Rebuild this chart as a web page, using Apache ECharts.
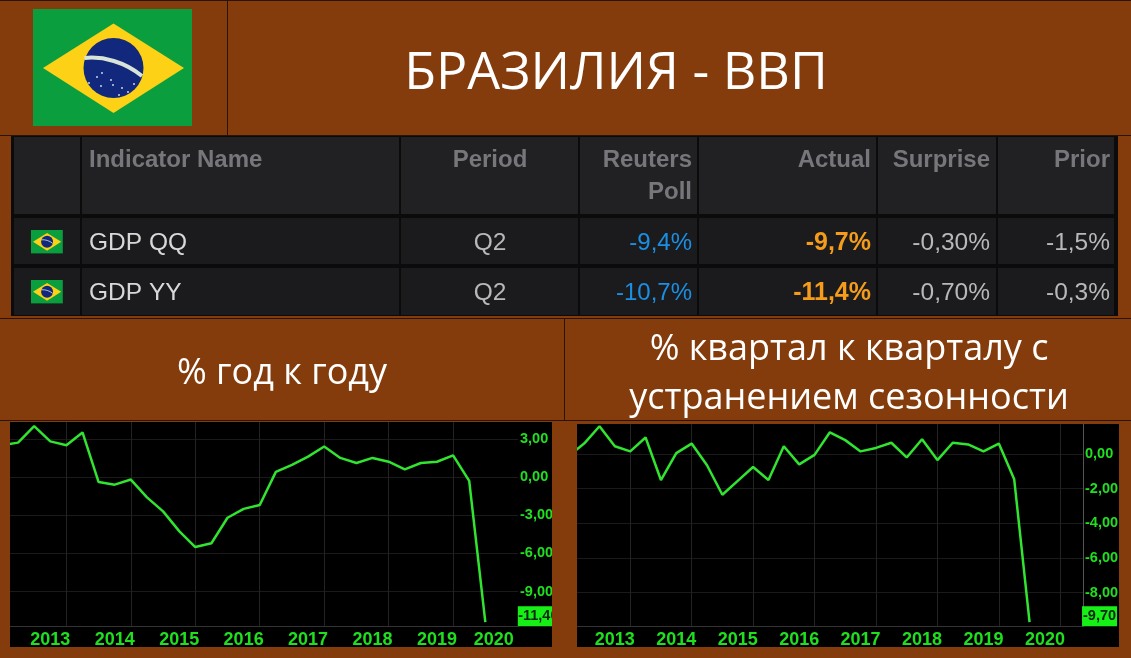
<!DOCTYPE html>
<html lang="ru">
<head>
<meta charset="UTF-8">
<title>Бразилия - ВВП</title>
<script src="https://cdn.jsdelivr.net/npm/echarts@6/dist/echarts.min.js"></script>
<style>
    html, body { margin: 0; padding: 0; background: #843c0c; }
    #chart { width: 1131px; height: 658px; }
</style>
</head>
<body>
<div id="chart"></div>
<script type="text/javascript">
// quarterly readings
var quarters = ['2012Q4',
    '2013Q1', '2013Q2', '2013Q3', '2013Q4', '2014Q1', '2014Q2', '2014Q3', '2014Q4',
    '2015Q1', '2015Q2', '2015Q3', '2015Q4', '2016Q1', '2016Q2', '2016Q3', '2016Q4',
    '2017Q1', '2017Q2', '2017Q3', '2017Q4', '2018Q1', '2018Q2', '2018Q3', '2018Q4',
    '2019Q1', '2019Q2', '2019Q3', '2019Q4', '2020Q1', '2020Q2'];
var yoyValues = [2.5,
    2.7, 4.0, 2.8, 2.5, 3.5, -0.4, -0.6, -0.2,
    -1.6, -2.7, -4.25, -5.5, -5.2, -3.2, -2.5, -2.2,
    0.4, 0.95, 1.6, 2.4, 1.5, 1.1, 1.5, 1.2,
    0.6, 1.1, 1.2, 1.7, -0.3, -11.4];
var qoqValues = [-0.1,
    0.6, 1.6, 0.45, 0.15, 0.95, -1.5, 0.05, 0.6,
    -0.65, -2.35, -1.55, -0.75, -1.5, 0.45, -0.6, -0.05,
    1.25, 0.8, 0.15, 0.35, 0.65, -0.2, 0.85, -0.35,
    0.65, 0.55, 0.15, 0.6, -1.45, -9.7];
var years = [2013, 2014, 2015, 2016, 2017, 2018, 2019, 2020];
var yoyTicks = [3, 0, -3, -6, -9];
var qoqTicks = [0, -2, -4, -6, -8];

// table
var headers = ['Indicator Name', 'Period', 'Reuters\nPoll', 'Actual', 'Surprise', 'Prior'];
var rowNames = ['GDP QQ', 'GDP YY'];
var rowPeriod = ['Q2', 'Q2'];
var rowPoll = ['-9,4%', '-10,7%'];
var rowActual = ['-9,7%', '-11,4%'];
var rowSurprise = ['-0,30%', '-0,70%'];
var rowPrior = ['-1,5%', '-0,3%'];

var BROWN = '#843c0c';
var GREEN = '#30e430';
var LABEL_GREEN = '#1fe01f';
var LINE_DARK = '#2a1405';
var TEXT_FONT = '"Open Sans", "Noto Sans", sans-serif';
var TABLE_FONT = '"Liberation Sans", sans-serif';
var AXIS_FONT = '"Liberation Sans", sans-serif';

function toYear(q) {
    return parseInt(q.slice(0, 4)) + (parseInt(q.slice(5)) - 1) / 4;
}
function pairs(values) {
    return values.map(function (v, i) { return [toYear(quarters[i]), v]; });
}
function comma(v) {
    return v.toFixed(2).replace('.', ',');
}

function rect(x, y, w, h, fill, z) {
    return { type: 'rect', shape: { x: x, y: y, width: w, height: h }, style: { fill: fill }, z: z === undefined ? 1 : z, silent: true };
}
function text(x, y, str, size, color, align, font, weight) {
    return {
        type: 'text', x: x, y: y, z: 5, silent: true,
        style: {
            text: str, fontSize: size, fill: color, align: align, verticalAlign: 'middle',
            fontFamily: font, fontWeight: weight || 'normal', lineHeight: 32
        }
    };
}

// flag is drawn in its own 159x117 box and scaled down for the table rows
function flag(x, y, k) {
    var stars = [[56, 74], [64, 68], [68, 77], [78, 71], [80, 76], [89, 79], [95, 83], [101, 75], [86, 86], [69, 64]];
    var children = [
        { type: 'rect', z: 4, shape: { x: 0, y: 0, width: 159, height: 117 }, style: { fill: '#0a9e3f' } },
        { type: 'polygon', z: 4, shape: { points: [[10, 59], [80.5, 14.5], [151, 59], [80.5, 104]] }, style: { fill: '#fcd116' } },
        { type: 'circle', z: 4, shape: { cx: 80.5, cy: 59, r: 30 }, style: { fill: '#12287c' } },
        {
            type: 'bezierCurve', z: 4,
            shape: { x1: 51.5, y1: 49, x2: 109, y2: 67, cpx1: 70, cpy1: 47, cpx2: 92, cpy2: 53 },
            style: { stroke: '#d8e4d8', lineWidth: 4, fill: null }
        }
    ];
    if (k > 0.5) {
        stars.forEach(function (s) {
            children.push({ type: 'circle', z: 4, shape: { cx: s[0], cy: s[1], r: 0.9 }, style: { fill: '#dfe6f5' } });
        });
    }
    return { type: 'group', x: x, y: y, scaleX: k, scaleY: k, silent: true, children: children };
}

var graphics = [];

// panel dividers
graphics.push(rect(0, 0, 1131, 1, LINE_DARK));
graphics.push(rect(227, 0, 1, 136, LINE_DARK));
graphics.push(rect(0, 135, 1131, 1, LINE_DARK));
graphics.push(rect(0, 318, 1131, 1, LINE_DARK));
graphics.push(rect(564, 318, 1, 102, LINE_DARK));
graphics.push(rect(0, 420, 1131, 1, LINE_DARK));

graphics.push(flag(33, 9, 1));
graphics.push(text(616, 74, 'БРАЗИЛИЯ - ВВП', 52, '#fff', 'center', TEXT_FONT));
graphics.push(text(282, 374, '% год к году', 36, '#fff', 'center', TEXT_FONT));
graphics.push(text(849, 350, '% квартал к кварталу с', 36, '#fff', 'center', TEXT_FONT));
graphics.push(text(849, 399, 'устранением сезонности', 36, '#fff', 'center', TEXT_FONT));

// table cells
var colEdges = [14, 82, 401, 580, 699, 878, 998, 1116];
graphics.push(rect(11, 136, 1107, 180, '#0b0b0c'));
for (var c = 0; c < colEdges.length - 1; c++) {
    var cx = colEdges[c], cw = colEdges[c + 1] - cx - 2;
    graphics.push(rect(cx, 137, cw, 77, '#212124', 2));
    graphics.push(rect(cx, 218, cw, 46, '#1b1b1e', 2));
    graphics.push(rect(cx, 268, cw, 47, '#1b1b1e', 2));
}
var HEAD = '#77777b';
graphics.push(text(89, 160, headers[0], 24, HEAD, 'left', TABLE_FONT, 'bold'));
graphics.push(text(490, 160, headers[1], 24, HEAD, 'center', TABLE_FONT, 'bold'));
graphics.push(text(692, 176, headers[2], 24, HEAD, 'right', TABLE_FONT, 'bold'));
graphics.push(text(871, 160, headers[3], 24, HEAD, 'right', TABLE_FONT, 'bold'));
graphics.push(text(990, 160, headers[4], 24, HEAD, 'right', TABLE_FONT, 'bold'));
graphics.push(text(1110, 160, headers[5], 24, HEAD, 'right', TABLE_FONT, 'bold'));
rowNames.forEach(function (name, i) {
    var y = i === 0 ? 243 : 293;
    graphics.push(flag(31, y - 13, 0.2));
    graphics.push(text(89, y, name, 24.5, '#d8d8d8', 'left', TABLE_FONT));
    graphics.push(text(490, y, rowPeriod[i], 24.5, '#b8b8b8', 'center', TABLE_FONT));
    graphics.push(text(692, y, rowPoll[i], 24, '#1a8fe3', 'right', TABLE_FONT));
    graphics.push(text(871, y, rowActual[i], 25, '#f59c1a', 'right', TABLE_FONT, 'bold'));
    graphics.push(text(990, y, rowSurprise[i], 24.5, '#b8b8b8', 'right', TABLE_FONT));
    graphics.push(text(1110, y, rowPrior[i], 24.5, '#b8b8b8', 'right', TABLE_FONT));
});

// black chart panels, with brown strips over whatever pokes past them
graphics.push(rect(10, 422, 542, 225, '#000', -1));
graphics.push(rect(577, 424, 542, 223, '#000', -1));
graphics.push(rect(552, 422, 25, 210, BROWN, 100));
graphics.push(rect(0, 422, 10, 210, BROWN, 100));

function xAxisFor(gridIndex, min, max, labelAt, lineAt) {
    return {
        type: 'value', gridIndex: gridIndex, min: min, max: max,
        axisLine: { show: true, onZero: false, lineStyle: { color: '#333', width: 1 } },
        axisTick: { show: false, customValues: lineAt },
        splitLine: { show: true, lineStyle: { color: '#232323', width: 1 } },
        axisLabel: {
            customValues: labelAt, margin: 5,
            color: LABEL_GREEN, fontSize: 18, fontWeight: 'bold', fontFamily: AXIS_FONT,
            formatter: function (v) { return String(Math.floor(v)); }
        }
    };
}
function yAxisFor(gridIndex, min, max, ticks, showLine) {
    return {
        type: 'value', gridIndex: gridIndex, position: 'right', min: min, max: max,
        axisLine: { show: showLine, onZero: false, lineStyle: { color: '#555', width: 1 } },
        axisTick: { show: false, customValues: ticks },
        splitLine: { show: true, lineStyle: { color: '#1a1a1a', width: 1 } },
        axisLabel: {
            customValues: ticks, margin: 2,
            color: LABEL_GREEN, fontSize: 14.5, fontWeight: 'bold', fontFamily: AXIS_FONT,
            formatter: function (v) { return comma(v); }
        }
    };
}
function lineSeries(index, values, boxText, offsetX) {
    var last = pairs(values)[values.length - 1];
    return {
        type: 'line', xAxisIndex: index, yAxisIndex: index,
        data: pairs(values), symbol: 'none', clip: true,
        lineStyle: { color: GREEN, width: 2.5 },
        markPoint: {
            silent: true, animation: false,
            symbol: 'rect', symbolSize: [35, 20], symbolOffset: [offsetX, -6],
            itemStyle: { color: '#17f017' },
            label: { show: true, color: '#06260a', fontSize: 14.5, fontWeight: 'bold', fontFamily: AXIS_FONT, formatter: boxText, offset: [offsetX > 60 ? 0 : 3, 0] },
            data: [{ coord: last }]
        }
    };
}

var myChart = echarts.init(document.getElementById('chart'));
var option = {
    animation: false,
    backgroundColor: BROWN,
    graphic: graphics,
    grid: [
        { left: 10, top: 422, width: 508, height: 204, containLabel: false },
        { left: 577, top: 424, width: 506, height: 202, containLabel: false }
    ],
    xAxis: [
        xAxisFor(0, 2012.875, 2020.757,
            years.map(function (y) { return y === 2020 ? y + 0.38 : y + 0.5; }),
            years.slice(0, 7).map(function (y) { return y + 0.75; })),
        xAxisFor(1, 2012.884, 2021.12,
            years.map(function (y) { return y + 0.5; }),
            years.map(function (y) { return y + 0.75; }))
    ],
    yAxis: [
        yAxisFor(0, -11.7, 4.32, yoyTicks, false),
        yAxisFor(1, -9.92, 1.73, qoqTicks, true)
    ],
    series: [
        lineSeries(0, yoyValues, '-11,40', 50),
        lineSeries(1, qoqValues, '-9,70', 70)
    ]
};
myChart.setOption(option);
</script>
</body>
</html>
